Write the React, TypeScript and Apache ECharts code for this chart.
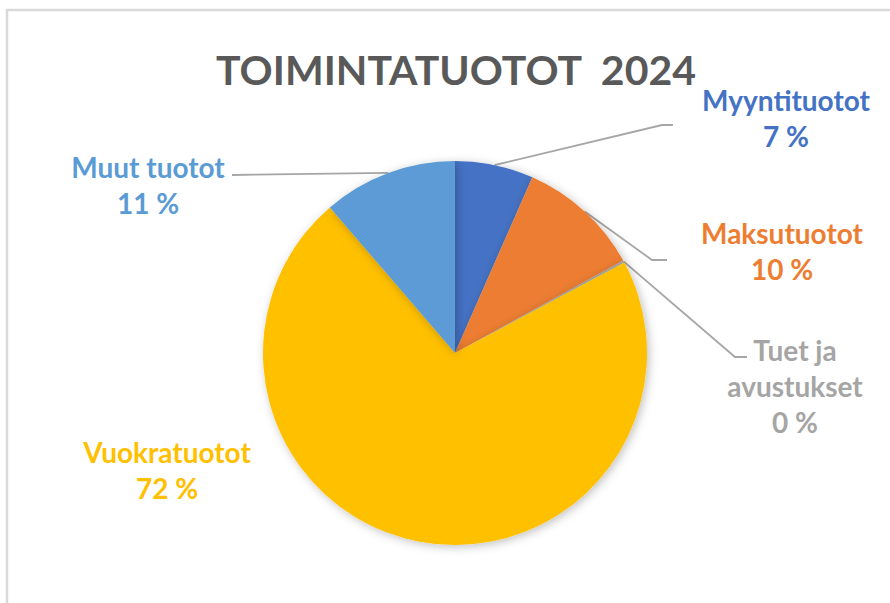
import React, { useEffect, useRef } from "react";
import * as echarts from "echarts";

const categories = ["Myyntituotot", "Maksutuotot", "Tuet ja avustukset", "Vuokratuotot", "Muut tuotot"];
const displayNames = ["Myyntituotot", "Maksutuotot", "Tuet ja\navustukset", "Vuokratuotot", "Muut tuotot"];
const values = [6.6, 10.4, 0.2, 71.5, 11.3];
const colors = ["#4472C4", "#ED7D31", "#A5A5A5", "#FFC000", "#5B9BD5"];
const titleText = "TOIMINTATUOTOT  2024";

// label anchor positions (text block centres) and leader elbow points
const labelPos = [
  [786, 118],
  [782, 251],
  [795, 386],
  [167, 470],
  [148, 185],
];
const elbows: (number[][] | null)[] = [
  [[662, 125], [673, 125]],
  [[652, 260], [667, 260]],
  [[735, 357], [747, 357]],
  null,
  [[232, 175]],
];

function indexOfText(t: string): number {
  const s = (t || "").replace(/\s+/g, " ").trim();
  for (let i = 0; i < categories.length; i++) {
    if (s.startsWith(displayNames[i].split("\n")[0])) return i;
  }
  return -1;
}

export default function App() {
  const ref = useRef<HTMLDivElement>(null);
  useEffect(() => {
    document.body.style.margin = "0";
    const chart = echarts.init(ref.current!, null, { renderer: "svg" });
    const font = "Lato, 'Open Sans', sans-serif";
    chart.setOption({
      animation: false,
      backgroundColor: "#ffffff",
      title: {
        text: titleText,
        left: 451,
        top: 64,
        textAlign: "center",
        textVerticalAlign: "middle",
        textStyle: { fontFamily: font, fontWeight: "bold", fontSize: 41, color: "#595959" },
      },
      graphic: [
        {
          type: "rect",
          shape: { x: 7, y: 10, width: 900, height: 620 },
          style: { fill: "none", stroke: "#D9D9D9", lineWidth: 2.5 },
          silent: true,
        },
      ],
      series: [
        {
          type: "pie",
          center: [455, 353],
          radius: [0, 192],
          startAngle: 90,
          clockwise: true,
          percentPrecision: 0,
          avoidLabelOverlap: false,
          itemStyle: {
            shadowBlur: 10,
            shadowColor: "rgba(0,0,0,0.25)",
            shadowOffsetX: 2,
            shadowOffsetY: 2,
          },
          label: {
            show: true,
            position: "outside",
            fontFamily: font,
            fontWeight: "bold",
            fontSize: 28,
            lineHeight: 36,
            align: "center",
            formatter: (p: any) => `${displayNames[p.dataIndex]}\n${p.percent} %`,
          },
          labelLine: {
            show: true,
            lineStyle: { color: "#A6A6A6", width: 1.8 },
          },
          labelLayout: (p: any) => {
            const i = indexOfText(p.text);
            if (i < 0) return {};
            const res: any = {
              x: labelPos[i][0],
              y: labelPos[i][1],
              align: "center",
              verticalAlign: "middle",
            };
            const e = elbows[i];
            if (e && p.labelLinePoints) {
              res.labelLinePoints = [p.labelLinePoints[0], ...e];
            }
            return res;
          },
          data: categories.map((c, i) => ({
            name: c,
            value: values[i],
            itemStyle: { color: colors[i] },
            label: { color: colors[i] },
            labelLine: { show: elbows[i] !== null },
          })),
        },
      ],
    });
    return () => chart.dispose();
  }, []);
  return <div ref={ref} style={{ width: 890, height: 603 }} />;
}
